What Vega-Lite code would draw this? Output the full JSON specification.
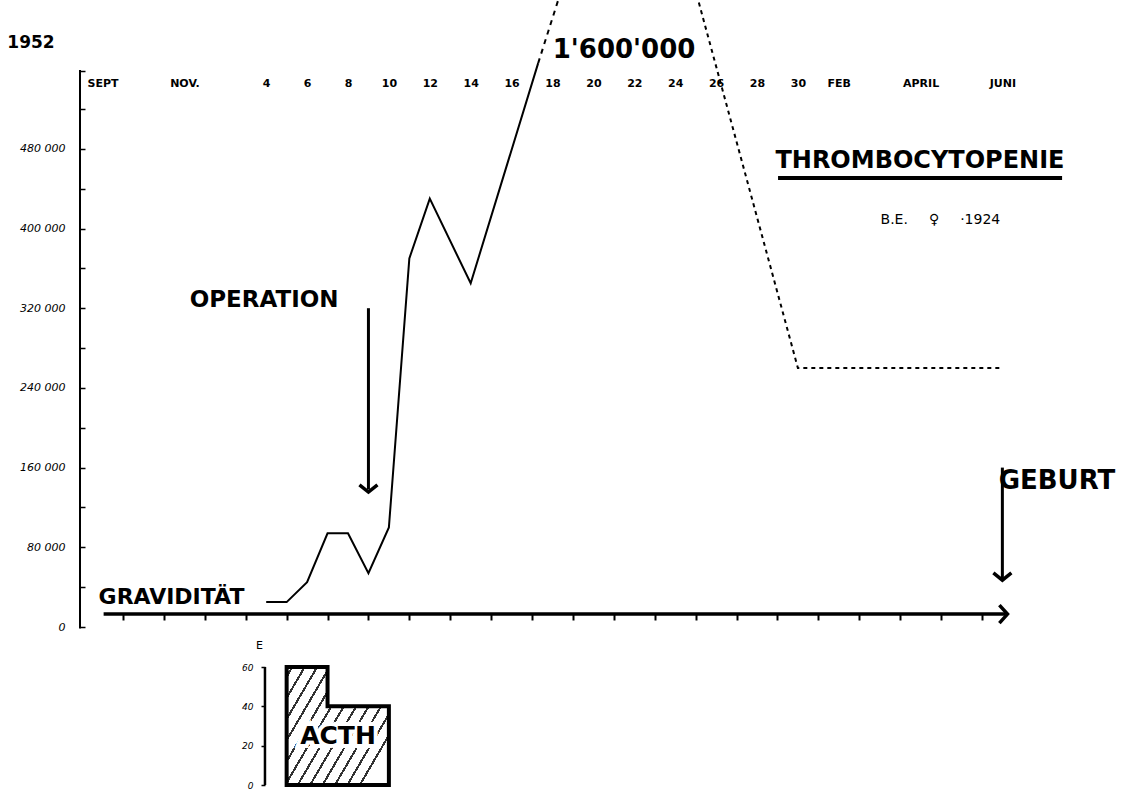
{
  "$schema": "https://vega.github.io/schema/vega-lite/v6.json",
  "width": 960,
  "height": 718,
  "autosize": {"type": "none"},
  "padding": {"left": 80, "top": 70, "right": 82, "bottom": 3},
  "background": "white",
  "config": {"view": {"stroke": null}, "font": "DejaVu Sans", "axis": {"grid": false}},
  "datasets": {
    "solid": [
      {"d": 4, "v": 25000}, {"d": 5, "v": 25000}, {"d": 6, "v": 45000}, {"d": 7, "v": 94000},
      {"d": 8, "v": 94000}, {"d": 9, "v": 54000}, {"d": 10, "v": 100000}, {"d": 11, "v": 370000},
      {"d": 12, "v": 430000}, {"d": 14, "v": 345000}, {"d": 17.3, "v": 566000}
    ],
    "dashUp": [{"d": 17.3, "v": 566000}, {"d": 18.6, "v": 650000}],
    "dashDown": [{"d": 24.85, "v": 650000}, {"d": 30, "v": 260000}, {"d": 40, "v": 260000}],
    "acth": [{"d": 5, "e": 60}, {"d": 7, "e": 40}, {"d": 10, "e": 40}],
    "one": [{}]
  },
  "layer": [
    {
      "layer": [
        {
          "data": {"name": "solid"},
          "mark": {"type": "line", "color": "black", "strokeWidth": 2},
          "encoding": {
            "x": {
              "field": "d", "type": "quantitative",
              "scale": {"domain": [-5.105, 41.84], "nice": false, "zero": false},
              "axis": {
                "orient": "top", "offset": -13, "domain": false, "ticks": false, "tickSize": 0,
                "labelPadding": 0, "labelBaseline": "middle", "labelFlush": false, "labelOverlap": false, "labelBound": false,
                "values": [-4, 0, 4, 6, 8, 10, 12, 14, 16, 18, 20, 22, 24, 26, 28, 30, 32, 36, 40],
                "labelExpr": "datum.value == -4 ? 'SEPT' : datum.value == 0 ? 'NOV.' : datum.value == 32 ? 'FEB' : datum.value == 36 ? 'APRIL' : datum.value == 40 ? 'JUNI' : datum.label",
                "labelFont": "DejaVu Sans", "labelFontWeight": "bold", "labelFontSize": 11, "labelColor": "black",
                "title": null, "grid": false
              }
            },
            "y": {
              "field": "v", "type": "quantitative",
              "scale": {"domain": [-161600, 559100], "nice": false, "zero": false},
              "axis": {
                "orient": "left", "domain": false, "tickSize": -5, "tickWidth": 1.5, "tickColor": "black",
                "labelPadding": 20, "labelFontSize": 11, "labelColor": "black", "labelFont": "DejaVu Sans", "labelFontStyle": "italic",
                "values": [0, 40000, 80000, 120000, 160000, 200000, 240000, 280000, 320000, 360000, 400000, 440000, 480000, 520000, 558000],
                "labelExpr": "datum.value % 80000 == 0 ? (datum.value == 0 ? '0' : (datum.value / 1000) + ' 000') : ''",
                "title": null, "grid": false
              }
            }
          }
        },
        {
          "data": {"name": "one"},
          "mark": {"type": "rule", "color": "black", "strokeWidth": 2},
          "encoding": {"x": {"datum": -5.105}, "y": {"datum": -1500}, "y2": {"datum": 559100}}
        },
        {
          "data": {"name": "dashUp"},
          "mark": {"type": "line", "color": "black", "strokeWidth": 2, "strokeDash": [5, 5]},
          "encoding": {"x": {"field": "d", "type": "quantitative"}, "y": {"field": "v", "type": "quantitative"}}
        },
        {
          "data": {"name": "dashDown"},
          "mark": {"type": "line", "color": "black", "strokeWidth": 2, "strokeDash": [4, 4]},
          "encoding": {"x": {"field": "d", "type": "quantitative"}, "y": {"field": "v", "type": "quantitative"}}
        },
        {
          "data": {"name": "one"},
          "mark": {"type": "rule", "color": "black", "strokeWidth": 3.5},
          "encoding": {"x": {"datum": -3.95}, "x2": {"datum": 40.15}, "y": {"datum": 13000}}
        },
        {
          "data": {"name": "one"},
          "mark": {"type": "point", "shape": "M-0.9,-1L0,0L-0.9,1", "filled": false, "stroke": "black", "strokeWidth": 3.5, "size": 324, "opacity": 1},
          "encoding": {"x": {"datum": 40.25}, "y": {"datum": 13000}}
        },
        {
          "data": {"name": "one"},
          "mark": {"type": "rule", "color": "black", "strokeWidth": 3},
          "encoding": {"x": {"datum": 9}, "y": {"datum": 320000}, "y2": {"datum": 138000}}
        },
        {
          "data": {"name": "one"},
          "mark": {"type": "point", "shape": "M-1,-0.8L0,0L1,-0.8", "filled": false, "stroke": "black", "strokeWidth": 3.5, "size": 324, "opacity": 1},
          "encoding": {"x": {"datum": 9}, "y": {"datum": 135500}}
        },
        {
          "data": {"name": "one"},
          "mark": {"type": "rule", "color": "black", "strokeWidth": 3},
          "encoding": {"x": {"datum": 40}, "y": {"datum": 160000}, "y2": {"datum": 49000}}
        },
        {
          "data": {"name": "one"},
          "mark": {"type": "point", "shape": "M-1,-0.8L0,0L1,-0.8", "filled": false, "stroke": "black", "strokeWidth": 3.5, "size": 324, "opacity": 1},
          "encoding": {"x": {"datum": 40}, "y": {"datum": 47000}}
        },
        {
          "data": {"name": "one"},
          "mark": {"type": "rule", "color": "black", "strokeWidth": 4},
          "encoding": {"x": {"datum": 29.03}, "x2": {"datum": 42.92}, "y": {"datum": 450700}}
        },
        {
          "data": {"name": "one"},
          "mark": {"type": "text", "text": "1952", "fontSize": 17, "fontWeight": "bold", "align": "center", "baseline": "middle", "color": "black"},
          "encoding": {"x": {"datum": -7.5}, "y": {"datum": 586200}}
        },
        {
          "data": {"name": "one"},
          "mark": {"type": "text", "text": "1'600'000", "fontSize": 26, "fontWeight": "bold", "align": "center", "baseline": "middle", "color": "black"},
          "encoding": {"x": {"datum": 21.5}, "y": {"datum": 579200}}
        },
        {
          "data": {"name": "one"},
          "mark": {"type": "text", "text": "THROMBOCYTOPENIE", "fontSize": 24, "fontWeight": "bold", "align": "center", "baseline": "middle", "color": "black"},
          "encoding": {"x": {"datum": 35.97}, "y": {"datum": 467800}}
        },
        {
          "data": {"name": "one"},
          "mark": {"type": "text", "text": "B.E.\u2003\u2002♀\u2003\u2002·1924", "fontSize": 14, "align": "center", "baseline": "middle", "color": "black"},
          "encoding": {"x": {"datum": 36.97}, "y": {"datum": 408500}}
        },
        {
          "data": {"name": "one"},
          "mark": {"type": "text", "text": "OPERATION", "fontSize": 23, "fontWeight": "bold", "align": "center", "baseline": "middle", "color": "black"},
          "encoding": {"x": {"datum": 3.9}, "y": {"datum": 328000}}
        },
        {
          "data": {"name": "one"},
          "mark": {"type": "text", "text": "GRAVIDITÄT", "fontSize": 22, "fontWeight": "bold", "align": "center", "baseline": "middle", "color": "black"},
          "encoding": {"x": {"datum": -0.63}, "y": {"datum": 30100}}
        },
        {
          "data": {"name": "one"},
          "mark": {"type": "text", "text": "GEBURT", "fontSize": 26, "fontWeight": "bold", "align": "center", "baseline": "middle", "color": "black"},
          "encoding": {"x": {"datum": 42.67}, "y": {"datum": 146600}}
        }
      ]
    },
    {
      "layer": [
        {
          "data": {"name": "acth"},
          "mark": {
            "type": "area", "interpolate": "step-after", "stroke": "black", "strokeWidth": 4, "strokeJoin": "miter", "opacity": 1,
            "fill": {
              "gradient": "linear", "x1": 0, "y1": 0, "x2": 1, "y2": 0.676,
              "stops": [
                {"offset": 0, "color": "white"},
                {"offset": 0.03, "color": "white"}, {"offset": 0.03, "color": "#333"}, {"offset": 0.046, "color": "#333"}, {"offset": 0.046, "color": "white"},
                {"offset": 0.1133, "color": "white"}, {"offset": 0.1133, "color": "#333"}, {"offset": 0.1293, "color": "#333"}, {"offset": 0.1293, "color": "white"},
                {"offset": 0.1967, "color": "white"}, {"offset": 0.1967, "color": "#333"}, {"offset": 0.2127, "color": "#333"}, {"offset": 0.2127, "color": "white"},
                {"offset": 0.28, "color": "white"}, {"offset": 0.28, "color": "#333"}, {"offset": 0.296, "color": "#333"}, {"offset": 0.296, "color": "white"},
                {"offset": 0.3633, "color": "white"}, {"offset": 0.3633, "color": "#333"}, {"offset": 0.3793, "color": "#333"}, {"offset": 0.3793, "color": "white"},
                {"offset": 0.4467, "color": "white"}, {"offset": 0.4467, "color": "#333"}, {"offset": 0.4627, "color": "#333"}, {"offset": 0.4627, "color": "white"},
                {"offset": 0.53, "color": "white"}, {"offset": 0.53, "color": "#333"}, {"offset": 0.546, "color": "#333"}, {"offset": 0.546, "color": "white"},
                {"offset": 0.6133, "color": "white"}, {"offset": 0.6133, "color": "#333"}, {"offset": 0.6293, "color": "#333"}, {"offset": 0.6293, "color": "white"},
                {"offset": 0.6967, "color": "white"}, {"offset": 0.6967, "color": "#333"}, {"offset": 0.7127, "color": "#333"}, {"offset": 0.7127, "color": "white"},
                {"offset": 0.78, "color": "white"}, {"offset": 0.78, "color": "#333"}, {"offset": 0.796, "color": "#333"}, {"offset": 0.796, "color": "white"},
                {"offset": 0.8633, "color": "white"}, {"offset": 0.8633, "color": "#333"}, {"offset": 0.8793, "color": "#333"}, {"offset": 0.8793, "color": "white"},
                {"offset": 0.9467, "color": "white"}, {"offset": 0.9467, "color": "#333"}, {"offset": 0.9627, "color": "#333"}, {"offset": 0.9627, "color": "white"},
                {"offset": 1, "color": "white"}
              ]
            }
          },
          "encoding": {
            "x": {
              "field": "d", "type": "quantitative",
              "scale": {"domain": [-5.105, 41.84], "nice": false, "zero": false},
              "axis": {
                "orient": "bottom", "offset": -174, "domain": false, "labels": false, "ticks": true,
                "tickSize": 6, "tickWidth": 2, "tickColor": "black",
                "values": [-3, -1, 1, 3, 5, 7, 9, 11, 13, 15, 17, 19, 21, 23, 25, 27, 29, 31, 33, 35, 37, 39],
                "title": null, "grid": false
              }
            },
            "y": {
              "field": "e", "type": "quantitative", "stack": null,
              "scale": {"domain": [-1.525, 363.6], "nice": false, "zero": false},
              "axis": {
                "orient": "left", "offset": -185, "domain": false, "values": [0, 20, 40, 60],
                "tickSize": 4, "tickWidth": 1.5, "tickColor": "black", "labelPadding": 8,
                "labelFontSize": 9, "labelColor": "black", "labelFontStyle": "italic",
                "title": "E", "titleAngle": 0, "titleX": -6, "titleY": 575, "titleAlign": "center", "titleBaseline": "middle",
                "titleFontSize": 11, "titleFontWeight": "normal", "titleColor": "black", "grid": false
              }
            },
            "y2": {"datum": 0}
          }
        },
        {
          "data": {"name": "one"},
          "mark": {"type": "rule", "color": "black", "strokeWidth": 2.5},
          "encoding": {"x": {"datum": 3.94}, "y": {"datum": 0}, "y2": {"datum": 60}}
        },
        {
          "data": {"name": "one"},
          "mark": {"type": "text", "text": "ACTH", "fontSize": 25, "fontWeight": "bold", "align": "center", "baseline": "middle", "fill": "white", "stroke": "white", "strokeWidth": 8},
          "encoding": {"x": {"datum": 7.51}, "y": {"datum": 24.9}}
        },
        {
          "data": {"name": "one"},
          "mark": {"type": "text", "text": "ACTH", "fontSize": 25, "fontWeight": "bold", "align": "center", "baseline": "middle", "color": "black"},
          "encoding": {"x": {"datum": 7.51}, "y": {"datum": 24.9}}
        }
      ]
    }
  ],
  "resolve": {"scale": {"y": "independent"}, "axis": {"x": "independent", "y": "independent"}}
}
